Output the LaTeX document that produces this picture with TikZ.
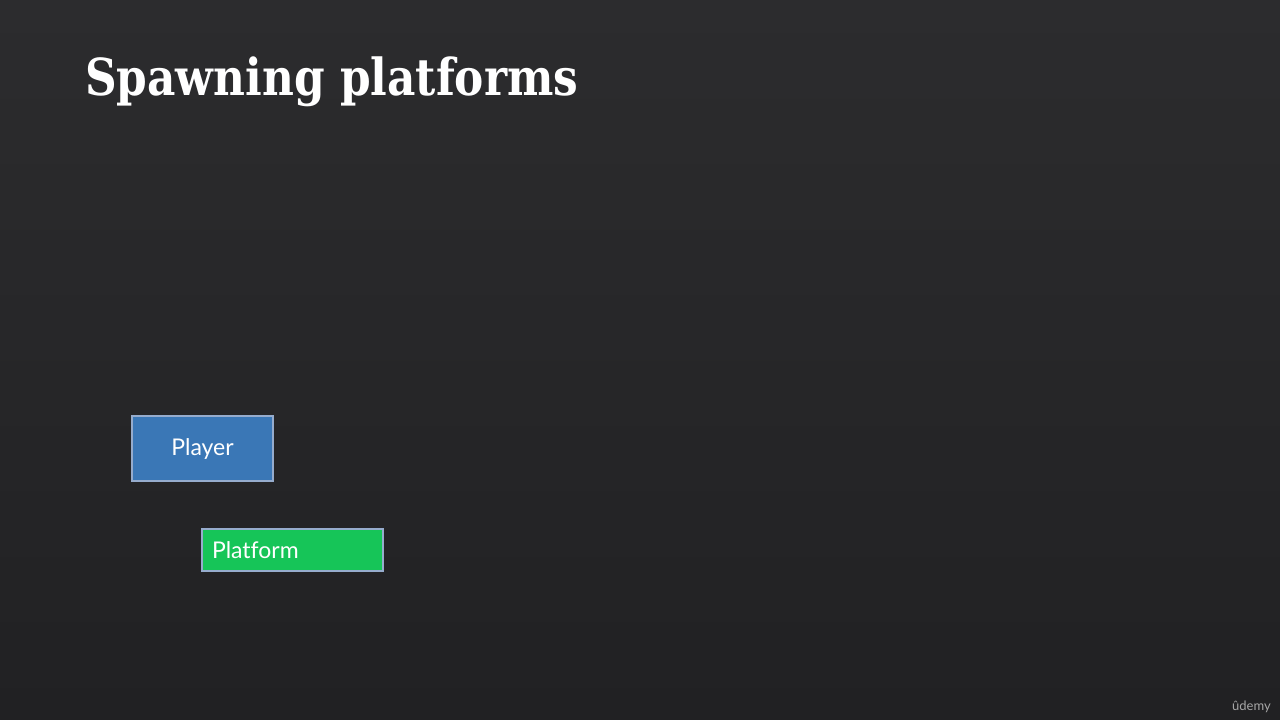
\documentclass[tikz,border=0pt]{standalone}
\usepackage{fontspec}
\usepackage{graphicx}
\setmainfont{Lato}[Ligatures=NoCommon]
\newfontfamily\titlefont{DejaVu Serif}
\usetikzlibrary{positioning}
\definecolor{bgtop}{RGB}{44,44,46}
\definecolor{bgbot}{RGB}{33,33,35}
\definecolor{playerblue}{RGB}{58,119,182}
\definecolor{platgreen}{RGB}{22,197,88}
\definecolor{boxedge}{RGB}{150,172,205}
\begin{document}
\begin{tikzpicture}[x=1pt,y=-1pt]
    \tikzstyle{slidebox} = [draw=boxedge, line width=1.2pt, inner sep=0pt, text=white, font=\fontsize{23}{26}\selectfont]
    \def \w{1280}
    \def \h{720}
    \shade[top color=bgtop, bottom color=bgbot] (0,0) rectangle (\w,\h);
    \useasboundingbox (0,0) rectangle (\w,\h);

    \node[anchor=base west, text=white, inner sep=0pt, font=\titlefont\bfseries\fontsize{51}{56}\selectfont] (title) at (85,95) {\scalebox{0.86}[1]{Spawning platforms}};

    \node[slidebox, fill=playerblue, minimum width=141pt, minimum height=65pt] (player) at (202.5,448.5) {Player};
    \node[slidebox, fill=platgreen, minimum width=181pt, minimum height=42pt, text width=161pt, align=left] (platform) at (292.5,550) {Platform};

    \node[anchor=base east, text=gray!70, inner sep=0pt, font=\fontsize{13}{15}\selectfont] (mark) at (1271,710) {ûdemy};
\end{tikzpicture}
\end{document}
